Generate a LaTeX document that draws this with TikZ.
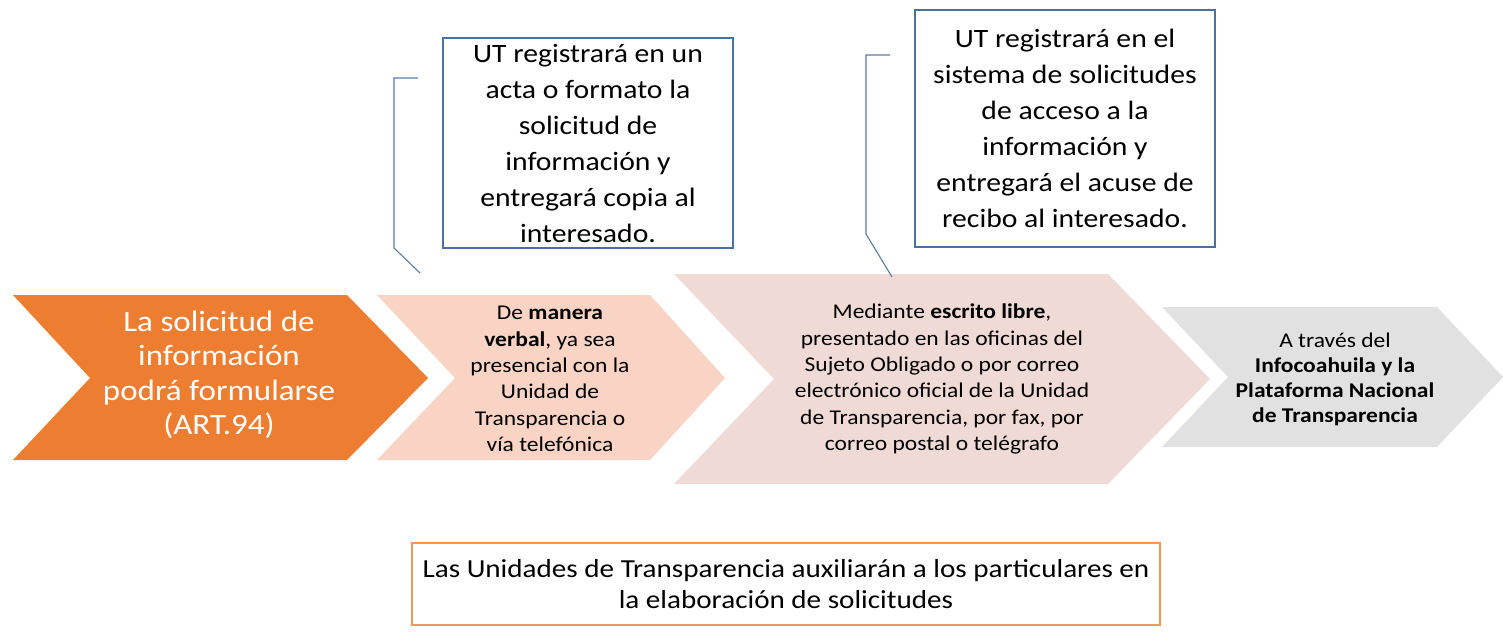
\documentclass[tikz,border=0pt]{standalone}
\usepackage{fontspec}
\setmainfont{Carlito}[FakeStretch=1.12]
\definecolor{corange}{HTML}{ED7D31}
\definecolor{cpink}{HTML}{F9D3C3}
\definecolor{cpale}{HTML}{F0DAD6}
\definecolor{cgray}{HTML}{E1E1E1}
\definecolor{cblue}{HTML}{4A6FA5}
\definecolor{cline}{HTML}{5B7BA6}
\begin{document}
\begin{tikzpicture}[x=1pt,y=-1pt,
  txt/.style={align=center,inner sep=0pt,font=\fontsize{21}{26.3}\selectfont},
  callout/.style={draw=cblue,line width=1.2pt,align=center,inner sep=0pt,font=\fontsize{26.5}{36}\selectfont},
  bracket/.style={draw=cline,line width=1.1pt}]
\useasboundingbox (0,0) rectangle (1503,636);
\fill[white] (0,0) rectangle (1503,636);
% chevrons
\fill[corange] (13,295) -- (347,295) -- (428,378) -- (347,460) -- (13,460) -- (90,378) -- cycle;
\fill[cpink] (377,295) -- (650,295) -- (725,378) -- (650,460) -- (377,460) -- (455,378) -- cycle;
\fill[cpale] (674,274) -- (1108,274) -- (1210,379) -- (1108,484) -- (674,484) -- (774,379) -- cycle;
\fill[cgray] (1162,307) -- (1437,307) -- (1503,377) -- (1437,447) -- (1162,447) -- (1228,377) -- cycle;
\node[txt,text=white,font=\fontsize{29.5}{34.5}\selectfont] (c1) at (219,375)
  {La solicitud de\\información\\podrá formularse\\(ART.94)};
\node[txt] (c2) at (550,379)
  {De \textbf{manera}\\\textbf{verbal}, ya sea\\presencial con la\\Unidad de\\Transparencia o\\vía telefónica};
\node[txt] (c3) at (942,379)
  {Mediante \textbf{escrito libre},\\presentado en las oficinas del\\Sujeto Obligado o por correo\\electrónico oficial de la Unidad\\de Transparencia, por fax, por\\correo postal o telégrafo};
\node[txt,font=\fontsize{21}{25}\selectfont] (c4) at (1335,379)
  {A través del\\\textbf{Infocoahuila y la}\\\textbf{Plataforma Nacional}\\\textbf{de Transparencia}};
% callouts
\node[callout,minimum width=290pt,minimum height=210pt] (b1) at (588,143)
  {UT registrará en un\\acta o formato la\\solicitud de\\información y\\entregará copia al\\interesado.};
\node[callout,minimum width=300pt,minimum height=237pt] (b2) at (1065,128.5)
  {UT registrará en el\\sistema de solicitudes\\de acceso a la\\información y\\entregará el acuse de\\recibo al interesado.};
\coordinate (k1a) at (418,78);
\coordinate (k1b) at (420,273);
\coordinate (k2a) at (890,55);
\coordinate (k2b) at (892,277);
\draw[bracket] (k1a) -- (394,78) -- (394,248) -- (k1b);
\draw[bracket] (k2a) -- (866,55) -- (866,234) -- (k2b);
% bottom box
\node[draw=corange!80,line width=1.2pt,align=center,inner sep=0pt,minimum width=748pt,minimum height=82pt,
  font=\fontsize{26}{31}\selectfont] (note) at (786,584)
  {Las Unidades de Transparencia auxiliarán a los particulares en\\la elaboración de solicitudes};
\end{tikzpicture}
\end{document}
